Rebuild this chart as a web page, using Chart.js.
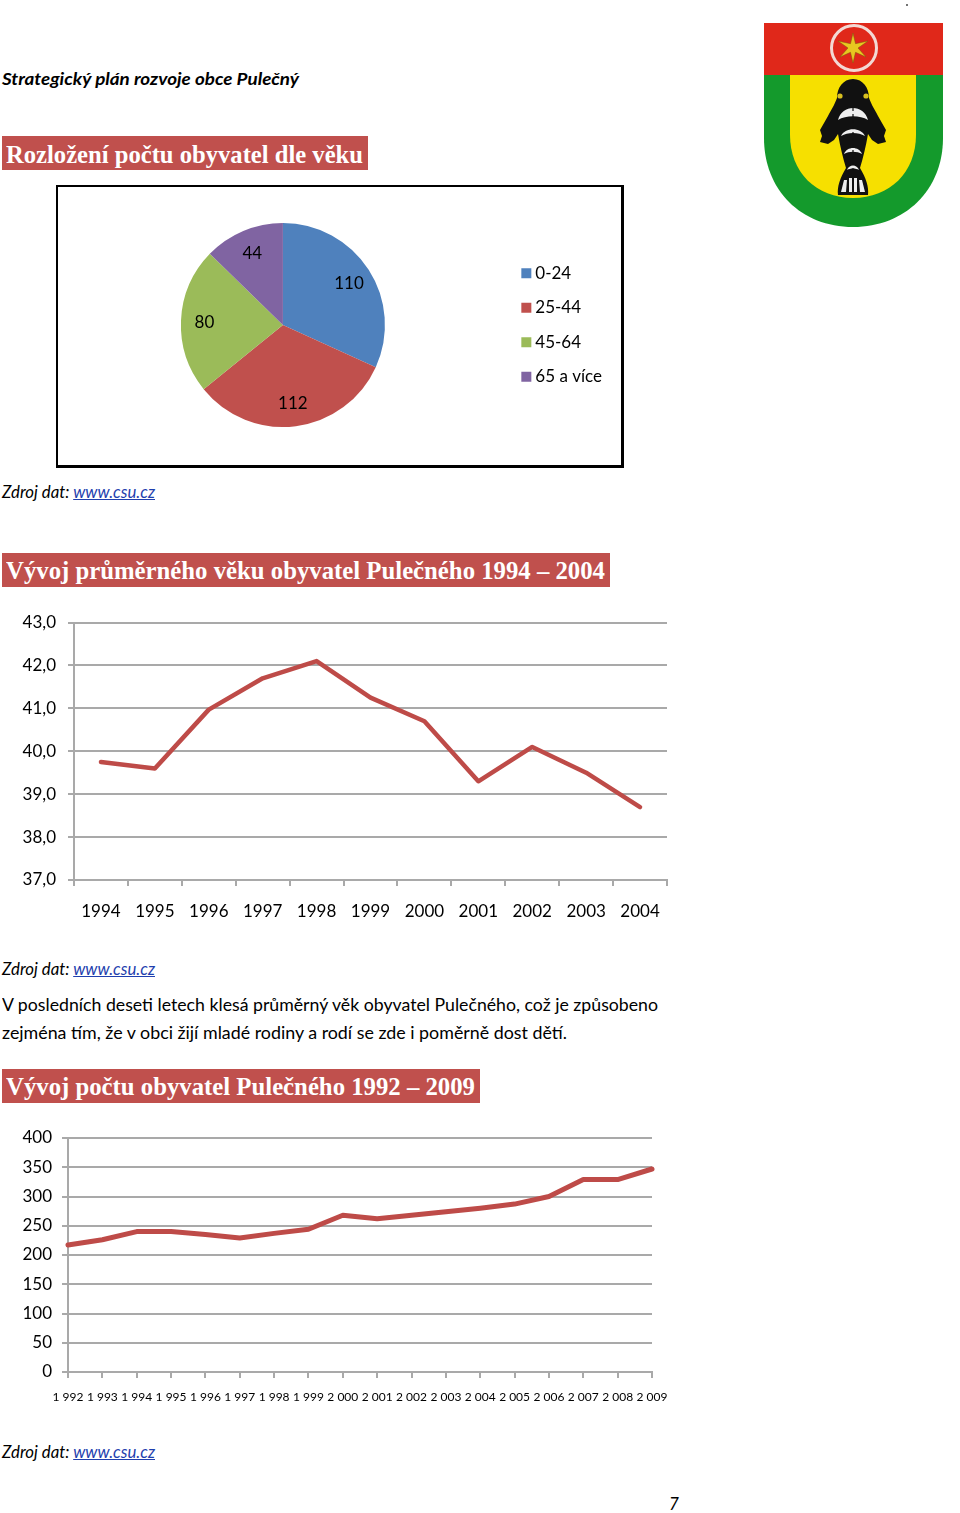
<!DOCTYPE html>
<html lang="cs">
<head>
<meta charset="utf-8">
<title>Strategický plán rozvoje obce Pulečný</title>
<script src="https://cdn.jsdelivr.net/npm/chart.js@4"></script>
<style>
  html, body { margin: 0; padding: 0; background: #fff; }
  #page { position: relative; width: 960px; height: 1513px; overflow: hidden; font-family: Lato, sans-serif; color: #000; }
  #page canvas { position: absolute; }
  .t { position: absolute; white-space: pre; line-height: 24px; font-size: 17px; transform-origin: 0 50%; }
  .i { font-style: italic; }
  .i a { color: #1f3fae; text-decoration: underline; }
  .band { position: absolute; left: 2px; height: 34px; background: #c0504d; }
  .h { position: absolute; left: 6px; color: #fff; white-space: pre; font: bold 25px/30px "Liberation Serif", serif; transform-origin: 0 50%; }
  #box { position: absolute; left: 56px; top: 185px; width: 563px; height: 278px; border: 2px solid #000; border-right-width: 3px; border-bottom-width: 3px; }
  #crest { position: absolute; left: 755px; top: 0; }
</style>
</head>
<body>
<div id="page">
  <div class="t i" data-w="297" style="left:2px;top:67px;font-weight:bold">Strategický plán rozvoje obce Pulečný</div>

  <div class="band" style="top:136px;width:366px"></div>
  <div class="h" data-w="357" style="top:140px">Rozložení počtu obyvatel dle věku</div>
  <div id="box"></div>
  <canvas id="ageChart" width="570" height="276" style="left:50px;top:188px"></canvas>
  <div class="t i" data-w="153" style="left:2px;top:480px">Zdroj dat: <a>www.csu.cz</a></div>

  <div class="band" style="top:553px;width:608px"></div>
  <div class="h" data-w="599" style="top:556px">Vývoj průměrného věku obyvatel Pulečného 1994 – 2004</div>
  <canvas id="avgAgeChart" width="680" height="330" style="left:0;top:600px"></canvas>
  <div class="t i" data-w="153" style="left:2px;top:957px">Zdroj dat: <a>www.csu.cz</a></div>

  <div class="t" data-w="656" style="left:2px;top:993px">V posledních deseti letech klesá průměrný věk obyvatel Pulečného, což je způsobeno</div>
  <div class="t" data-w="565" style="left:2px;top:1021px">zejména tím, že v obci žijí mladé rodiny a rodí se zde i poměrně dost dětí.</div>

  <div class="band" style="top:1069px;width:478px"></div>
  <div class="h" data-w="469" style="top:1072px">Vývoj počtu obyvatel Pulečného 1992 – 2009</div>
  <canvas id="popChart" width="680" height="300" style="left:0;top:1110px"></canvas>
  <div class="t i" data-w="153" style="left:2px;top:1440px">Zdroj dat: <a>www.csu.cz</a></div>

  <div class="t i" style="left:669px;top:1492px">7</div>

  <svg id="crest" width="205" height="235" viewBox="755 0 205 235">
    <circle cx="907" cy="5" r="1" fill="#444"/>
    <path d="M764 75H943V138C943 190 905 227 853 227C801 227 764 190 764 138Z" fill="#149a2c"/>
    <path d="M790 75H916V135C916 172 890 198 853 198C816 198 790 172 790 135Z" fill="#f6e000"/>
    <rect x="764" y="23" width="179" height="52" fill="#e0281a"/>
    <circle cx="854" cy="48" r="22.5" fill="none" stroke="#f3d9d4" stroke-width="3"/>
    <path d="M853 33L855.5 43.7L868 41L858 48L866 57L855.5 52.3L853 63L850.5 52.3L840 57L848 48L838 41L850.5 43.7Z" fill="#e8c820" stroke="#7a5a10" stroke-width=".5"/>
    <path d="M853 79C863 79 869 88 869 98C872 106 875 110 878 116L886 130L884 136L886 142L878 144L872 140L868 134C866 146 863 158 860 168C866 178 869 187 868 195H838C837 187 840 178 846 168C843 158 840 146 838 134L834 140L828 144L820 142L822 136L820 130L828 116C831 110 834 106 837 98C837 88 843 79 853 79Z" fill="#111"/>
    <path d="M838 120C842 104 864 104 868 120C860 115 846 115 838 120ZM841 136C845 127 861 127 865 136C858 132 848 132 841 136ZM844 154C847 146 859 146 862 154C857 151 849 151 844 154ZM847 170C849 164 857 164 859 170C856 168 850 168 847 170ZM841 192L844 180H847L846 192ZM849 192V178H852V192ZM854 192V178H857V192ZM860 192L859 180H862L865 192Z" fill="#eee"/>
    <path d="M853 108V172" stroke="#111" stroke-width="1.2" stroke-dasharray="3 3" fill="none"/>
    <circle cx="840" cy="96" r="2.6" fill="#d8c020"/><circle cx="866" cy="96" r="2.6" fill="#d8c020"/>
  </svg>
</div>

<script>
// values
const ageGroups = ['0-24', '25-44', '45-64', '65 a více'];
const ageCounts = [110, 112, 80, 44];
const ageColors = ['#4f81bd', '#c0504d', '#9bbb59', '#8064a2'];

const avgAgeYears = ['1994', '1995', '1996', '1997', '1998', '1999', '2000', '2001', '2002', '2003', '2004'];
const avgAgeValues = [39.75, 39.6, 40.97, 41.7, 42.1, 41.25, 40.7, 39.3, 40.1, 39.5, 38.7];

const popYears = ['1 992', '1 993', '1 994', '1 995', '1 996', '1 997', '1 998', '1 999', '2 000',
  '2 001', '2 002', '2 003', '2 004', '2 005', '2 006', '2 007', '2 008', '2 009'];
const popValues = [217, 226, 240, 240, 235, 229, 237, 244, 268, 262, 268, 274, 280, 287, 300, 329, 329, 347];

const tickFont = { family: 'Lato, sans-serif', size: 17 };
const gridColor = '#a9a9a9';
const lineColor = '#be4b48';

// squeeze text lines to the width they have in the reference
document.querySelectorAll('[data-w]').forEach(el => {
  const w = el.getBoundingClientRect().width;
  el.style.transform = 'scaleX(' + (el.dataset.w / w) + ')';
});

// value labels inside the pie slices
const sliceLabels = {
  id: 'sliceLabels',
  afterDatasetsDraw(chart) {
    const ctx = chart.ctx;
    ctx.save();
    ctx.font = '17px Lato, sans-serif';
    ctx.fillStyle = '#000';
    ctx.textAlign = 'center';
    ctx.textBaseline = 'middle';
    chart.getDatasetMeta(0).data.forEach((arc, i) => {
      const mid = (arc.startAngle + arc.endAngle) / 2;
      const r = arc.outerRadius * 0.77;
      ctx.fillText(ageCounts[i], arc.x + Math.cos(mid) * r, arc.y + 1 + Math.sin(mid) * r);
    });
    ctx.restore();
  }
};

new Chart(document.getElementById('ageChart'), {
  type: 'doughnut',
  data: {
    labels: ageGroups,
    datasets: [{ data: ageCounts, backgroundColor: ageColors, borderWidth: 0, radius: 102, cutout: 0 }]
  },
  options: {
    responsive: false,
    animation: false,
    layout: { padding: { left: 7.5, right: 8, bottom: 2 } },
    plugins: {
      tooltip: { enabled: false },
      legend: {
        position: 'right',
        labels: {
          usePointStyle: true,
          pointStyle: 'rect',
          boxWidth: 1,
          boxHeight: 10,
          padding: 17.5,
          color: '#000',
          font: { family: 'Lato, sans-serif', size: 17 }
        }
      }
    }
  },
  plugins: [sliceLabels]
});

function lineOptions(yWidth, pad, xHeight, yMin, yMax, yStep, yFormat, yPad, xOffset, xFont, xPad, lineWidth) {
  return {
    responsive: false,
    animation: false,
    layout: { padding: pad },
    plugins: { legend: { display: false }, tooltip: { enabled: false } },
    elements: { point: { radius: 0 }, line: { tension: 0, borderWidth: lineWidth, borderCapStyle: 'round', borderJoinStyle: 'round' } },
    scales: {
      x: {
        offset: xOffset,
        grid: { offset: xOffset, drawOnChartArea: false, color: gridColor, lineWidth: 2, tickLength: 6 },
        border: { color: gridColor, width: 2 },
        ticks: { autoSkip: false, maxRotation: 0, color: '#000', font: xFont, padding: xPad },
        afterFit(scale) { scale.height = xHeight; scale.paddingLeft = 0; scale.paddingRight = 0; }
      },
      y: {
        min: yMin,
        max: yMax,
        grid: { color: gridColor, lineWidth: 2, tickLength: 6 },
        border: { color: gridColor, width: 2 },
        ticks: { stepSize: yStep, color: '#000', font: tickFont, padding: yPad, callback: yFormat },
        afterFit(scale) { scale.width = yWidth; }
      }
    }
  };
}

new Chart(document.getElementById('avgAgeChart'), {
  type: 'line',
  data: {
    labels: avgAgeYears,
    datasets: [{ data: avgAgeValues, borderColor: lineColor, clip: false }]
  },
  options: lineOptions(74, { top: 22.5, right: 13, bottom: 0 }, 50, 37, 43, 1,
    v => v.toFixed(1).replace('.', ','), 12, true, tickFont, 15, 4.5)
});

new Chart(document.getElementById('popChart'), {
  type: 'line',
  data: {
    labels: popYears,
    datasets: [{ data: popValues, borderColor: lineColor, clip: false }]
  },
  options: lineOptions(68, { top: 28, right: 28, bottom: 0 }, 38, 0, 400, 50,
    v => String(v), 10, false, { family: 'Lato, sans-serif', size: 12 }, 12, 5)
});
</script>
</body>
</html>
